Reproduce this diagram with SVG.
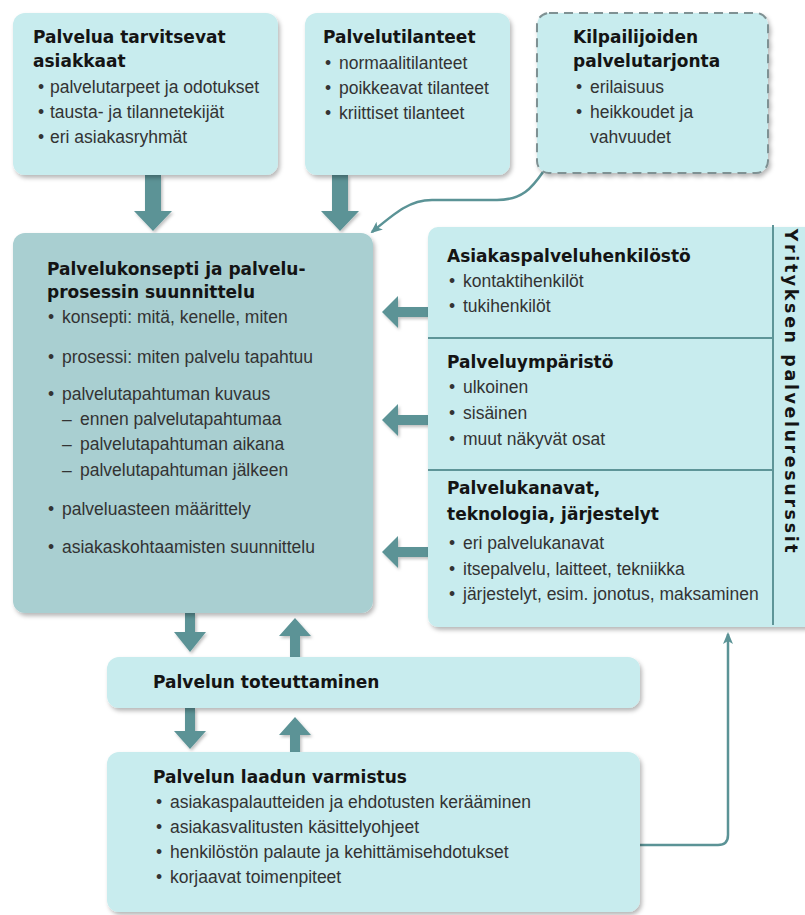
<svg xmlns="http://www.w3.org/2000/svg" width="805" height="915" viewBox="0 0 805 915">
<defs>
<filter id="sh" x="-10%" y="-10%" width="130%" height="130%">
<feDropShadow dx="2" dy="3" stdDeviation="2" flood-color="#000" flood-opacity="0.28"/>
</filter>
<filter id="ash" x="-30%" y="-30%" width="160%" height="160%">
<feDropShadow dx="1.5" dy="2" stdDeviation="1.5" flood-color="#000" flood-opacity="0.25"/>
</filter>
<marker id="ah" viewBox="0 0 12 10" refX="10" refY="5" markerWidth="12" markerHeight="10" markerUnits="userSpaceOnUse" orient="auto">
<path d="M0,0 L12,5 L0,10 L3,5 Z" fill="#5b9396"/>
</marker>
</defs>
<style>
.box{fill:#c8ecee;filter:url(#sh);}
.main{fill:#a9cfd1;filter:url(#sh);}
.dash{fill:#c8ecee;stroke:#7f9193;stroke-width:2;stroke-dasharray:9 6;filter:url(#sh);}
.arr{fill:#5b9396;filter:url(#ash);}
.ln{fill:none;stroke:#5b9396;stroke-width:2.5;}
.div{stroke:#5e9598;stroke-width:2;}
.h{font-family:"DejaVu Sans",sans-serif;font-weight:bold;font-size:17px;fill:#141414;}
.t{font-family:"Liberation Sans",Arial,sans-serif;font-size:17.5px;fill:#333;}
</style>

<g id="connectors">
<polygon class="arr" points="145,175 161,175 161,211 172,211 153,231 134,211 145,211"/>
<polygon class="arr" points="332,175 348,175 348,211 359,211 340,231 321,211 332,211"/>
<path class="ln" d="M543,172 C532,188 522,200 497,200 L432,200 C410,200 396,212 372,232" marker-end="url(#ah)"/>
<polygon class="arr" points="428,307 398,307 398,296 382,312 398,328 398,317 428,317"/>
<polygon class="arr" points="428,415 398,415 398,404 382,420 398,436 398,425 428,425"/>
<polygon class="arr" points="428,547 398,547 398,536 382,552 398,568 398,557 428,557"/>
<polygon class="arr" points="185,613 195,613 195,632 206,632 190,652 174,632 185,632"/>
<polygon class="arr" points="290,657 300,657 300,636 311,636 295,618 279,636 290,636"/>
<polygon class="arr" points="185,708 195,708 195,731 206,731 190,749 174,731 185,731"/>
<polygon class="arr" points="290,752 300,752 300,735 311,735 295,717 279,735 290,735"/>
<path class="ln" d="M640,845 L718,845 Q728,845 728,835 L728,634" marker-end="url(#ah)"/>
</g>

<g id="asiakkaat">
<rect class="box" x="13" y="13" width="265" height="162" rx="12"/>
<text class="h" x="33" y="43">Palvelua tarvitsevat</text>
<text class="h" x="33" y="67">asiakkaat</text>
<text class="t" x="38" y="93">•</text><text class="t" x="50" y="93">palvelutarpeet ja odotukset</text>
<text class="t" x="38" y="118">•</text><text class="t" x="50" y="118">tausta- ja tilannetekijät</text>
<text class="t" x="38" y="143">•</text><text class="t" x="50" y="143">eri asiakasryhmät</text>
</g>

<g id="palvelutilanteet">
<rect class="box" x="305" y="13" width="205" height="162" rx="12"/>
<text class="h" x="323" y="43">Palvelutilanteet</text>
<text class="t" x="325" y="69">•</text><text class="t" x="339" y="69">normaalitilanteet</text>
<text class="t" x="325" y="94">•</text><text class="t" x="339" y="94">poikkeavat tilanteet</text>
<text class="t" x="325" y="119">•</text><text class="t" x="339" y="119">kriittiset tilanteet</text>
</g>

<g id="kilpailijat">
<rect class="dash" x="537" y="13" width="231" height="160" rx="12"/>
<text class="h" x="573" y="43">Kilpailijoiden</text>
<text class="h" x="573" y="67">palvelutarjonta</text>
<text class="t" x="576" y="93">•</text><text class="t" x="590" y="93">erilaisuus</text>
<text class="t" x="576" y="118">•</text><text class="t" x="590" y="118">heikkoudet ja</text>
<text class="t" x="590" y="143">vahvuudet</text>
</g>

<g id="suunnittelu">
<rect class="main" x="13" y="233" width="360" height="380" rx="12"/>
<text class="h" x="47" y="275">Palvelukonsepti ja palvelu-</text>
<text class="h" x="47" y="298">prosessin suunnittelu</text>
<text class="t" x="48" y="323">•</text><text class="t" x="62" y="323">konsepti: mitä, kenelle, miten</text>
<text class="t" x="48" y="363">•</text><text class="t" x="62" y="363">prosessi: miten palvelu tapahtuu</text>
<text class="t" x="48" y="400">•</text><text class="t" x="62" y="400">palvelutapahtuman kuvaus</text>
<text class="t" x="62" y="425">–</text><text class="t" x="80" y="425">ennen palvelutapahtumaa</text>
<text class="t" x="62" y="450">–</text><text class="t" x="80" y="450">palvelutapahtuman aikana</text>
<text class="t" x="62" y="476">–</text><text class="t" x="80" y="476">palvelutapahtuman jälkeen</text>
<text class="t" x="48" y="515">•</text><text class="t" x="62" y="515">palveluasteen määrittely</text>
<text class="t" x="48" y="553">•</text><text class="t" x="62" y="553">asiakaskohtaamisten suunnittelu</text>
</g>

<g id="resurssit">
<rect class="box" x="428" y="227" width="390" height="400" rx="10"/>
<line class="div" x1="428" y1="338" x2="773" y2="338"/>
<line class="div" x1="428" y1="470" x2="773" y2="470"/>
<line class="div" x1="773" y1="225" x2="773" y2="625"/>
<text class="h" x="447" y="262">Asiakaspalveluhenkilöstö</text>
<text class="t" x="449" y="287">•</text><text class="t" x="463" y="287">kontaktihenkilöt</text>
<text class="t" x="449" y="312">•</text><text class="t" x="463" y="312">tukihenkilöt</text>
<text class="h" x="447" y="368">Palveluympäristö</text>
<text class="t" x="449" y="393">•</text><text class="t" x="463" y="393">ulkoinen</text>
<text class="t" x="449" y="419">•</text><text class="t" x="463" y="419">sisäinen</text>
<text class="t" x="449" y="445">•</text><text class="t" x="463" y="445">muut näkyvät osat</text>
<text class="h" x="447" y="494">Palvelukanavat,</text>
<text class="h" x="447" y="520">teknologia, järjestelyt</text>
<text class="t" x="449" y="549">•</text><text class="t" x="463" y="549">eri palvelukanavat</text>
<text class="t" x="449" y="575">•</text><text class="t" x="463" y="575">itsepalvelu, laitteet, tekniikka</text>
<text class="t" x="449" y="600">•</text><text class="t" x="463" y="600">järjestelyt, esim. jonotus, maksaminen</text>
<text class="h" transform="translate(785,392) rotate(90)" text-anchor="middle" style="font-size:17.5px;letter-spacing:2.6px">Yrityksen palveluresurssit</text>
</g>

<g id="toteuttaminen">
<rect class="box" x="107" y="657" width="533" height="51" rx="12"/>
<text class="h" x="153" y="688">Palvelun toteuttaminen</text>
</g>

<g id="laatu">
<rect class="box" x="107" y="752" width="533" height="160" rx="12"/>
<text class="h" x="153" y="783">Palvelun laadun varmistus</text>
<text class="t" x="156" y="808">•</text><text class="t" x="170" y="808">asiakaspalautteiden ja ehdotusten kerääminen</text>
<text class="t" x="156" y="833">•</text><text class="t" x="170" y="833">asiakasvalitusten käsittelyohjeet</text>
<text class="t" x="156" y="858">•</text><text class="t" x="170" y="858">henkilöstön palaute ja kehittämisehdotukset</text>
<text class="t" x="156" y="883">•</text><text class="t" x="170" y="883">korjaavat toimenpiteet</text>
</g>
</svg>
